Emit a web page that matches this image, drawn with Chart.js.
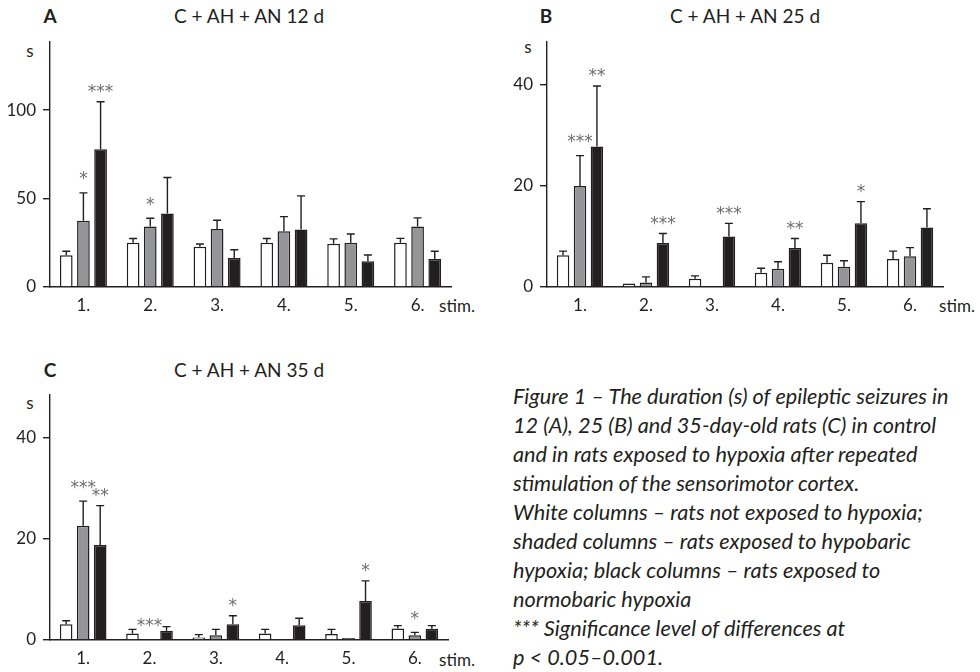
<!DOCTYPE html>
<html>
<head>
<meta charset="utf-8">
<script src="https://cdn.jsdelivr.net/npm/chart.js@4.4.0/dist/chart.umd.min.js"></script>
<style>
body{margin:0;width:980px;height:672px;overflow:hidden;background:#fff;font-family:Lato,"Open Sans",sans-serif;color:#231f20;position:relative;}
canvas{position:absolute;}
.lbl{position:absolute;transform:translate(-50%,-50%);white-space:nowrap;font-size:17px;}
.ttl{font-size:19px;}
.caption{position:absolute;left:513px;top:382px;font-style:italic;font-size:21.7px;line-height:29px;white-space:nowrap;color:#231f20;}
</style>
</head>
<body>
<div class="lbl ttl" style="left:50px;top:15px;font-weight:bold">A</div>
<div class="lbl ttl" style="left:249px;top:15px">C + AH + AN 12 d</div>
<div class="lbl ttl" style="left:546px;top:15px;font-weight:bold">B</div>
<div class="lbl ttl" style="left:745px;top:15px">C + AH + AN 25 d</div>
<div class="lbl ttl" style="left:50px;top:369px;font-weight:bold">C</div>
<div class="lbl ttl" style="left:249px;top:369px">C + AH + AN 35 d</div>
<div class="lbl" style="left:30px;top:50px">s</div>
<div class="lbl" style="left:528px;top:46px">s</div>
<div class="lbl" style="left:30px;top:402px">s</div>
<div class="lbl" style="left:457px;top:305px">stim.</div>
<div class="lbl" style="left:957px;top:305px">stim.</div>
<div class="lbl" style="left:457px;top:659px">stim.</div>

<canvas id="chartA" width="480" height="320" style="left:0;top:0"></canvas>
<canvas id="chartB" width="480" height="320" style="left:497px;top:0"></canvas>
<canvas id="chartC" width="480" height="320" style="left:0;top:353px"></canvas>

<div class="caption">
Figure 1 – The duration (s) of epileptic seizures in<br>
12 (A), 25 (B) and 35-day-old rats (C) in control<br>
and in rats exposed to hypoxia after repeated<br>
stimulation of the sensorimotor cortex.<br>
White columns – rats not exposed to hypoxia;<br>
shaded columns – rats exposed to hypobaric<br>
hypoxia; black columns – rats exposed to<br>
normobaric hypoxia<br>
*** Significance level of differences at<br>
p &lt; 0.05–0.001.
</div>

<script>
let stimLabels=["1.","2.","3.","4.","5.","6."];

/* A: 12 d */
let aWhite=[18,25,22.8,25,24.5,25];
let aWhiteErr=[20.2,27.4,24.3,27.4,27.2,27.5];
let aGray=[37.5,34.2,32.8,31.5,25,34.2];
let aGrayErr=[53.2,38.9,37.7,39.8,30,39.1];
let aBlack=[77.9,41.5,16.4,32.5,14.5,15.8];
let aBlackErr=[104.7,61.9,21.1,51.5,18.1,20.2];
let aGrayStars=["*","*","","","",""];
let aBlackStars=["***","","","","",""];
let aTicks=[0,50,100];

/* B: 25 d */
let bWhite=[6.3,0.7,1.65,2.8,4.8,5.55];
let bWhiteErr=[7.1,null,2.2,3.7,6.3,7.1];
let bGray=[20,0.9,0,3.6,4.0,6.1];
let bGrayErr=[26,2.0,null,5.0,5.2,7.8];
let bBlack=[27.8,8.7,10.0,7.7,12.6,11.8];
let bBlackErr=[39.8,10.6,12.6,9.6,16.9,15.5];
let bGrayStars=["***","","","","",""];
let bBlackStars=["**","***","***","**","*",""];
let bTicks=[0,20,40];

/* C: 35 d */
let cWhite=[3.1,1.3,0.5,1.3,1.2,2.3];
let cWhiteErr=[3.8,2.1,1.06,2.1,2.1,2.85];
let cGray=[22.6,0,0.93,0.2,0.4,0.93];
let cGrayErr=[27.5,null,2.1,null,null,1.5];
let cBlack=[18.8,1.85,3.1,2.9,7.7,2.25];
let cBlackErr=[26.6,2.65,4.8,4.3,11.7,2.85];
let cGrayStars=["***","***","","","","*"];
let cBlackStars=["**","","*","","*",""];
let cTicks=[0,20,40];

const INK="#231f20";

/* error bars + stars */
const marks={
id:"marks",
afterDatasetsDraw(chart){
let ctx=chart.ctx,y=chart.scales.y;
ctx.save();
chart.data.datasets.forEach((ds,di)=>{
let meta=chart.getDatasetMeta(di);
meta.data.forEach((bar,i)=>{
let top=bar.y;
if(ds.err[i]!=null){
let ye=y.getPixelForValue(ds.err[i]);
ctx.strokeStyle=INK;ctx.lineWidth=1.4;
ctx.beginPath();
ctx.moveTo(bar.x,bar.y);ctx.lineTo(bar.x,ye);
ctx.moveTo(bar.x-4,ye);ctx.lineTo(bar.x+4,ye);
ctx.stroke();
top=ye;
}
if(ds.stars[i]){
ctx.fillStyle="#6d6e71";
ctx.font="17px 'DejaVu Sans'";
ctx.textAlign="center";ctx.textBaseline="middle";
ctx.fillText(ds.stars[i],bar.x,top-ds.starLift);
}
});
});
ctx.restore();
}
};

function makeChart(id,white,whiteErr,gray,grayErr,black,blackErr,grayStars,blackStars,ticks,max,padRight){
let none=["","","","","",""];
return new Chart(document.getElementById(id),{
type:"bar",
data:{
labels:stimLabels,
datasets:[
{data:white,err:whiteErr,stars:none,starLift:9,backgroundColor:"#ffffff",borderColor:INK,borderWidth:1.5},
{data:gray,err:grayErr,stars:grayStars,starLift:13,backgroundColor:"#939598",borderColor:INK,borderWidth:1.5},
{data:black,err:blackErr,stars:blackStars,starLift:9,backgroundColor:INK,borderColor:INK,borderWidth:1.5}
]},
options:{
responsive:false,animation:false,
layout:{padding:{top:42,right:padRight,left:0,bottom:0}},
plugins:{legend:{display:false},tooltip:{enabled:false}},
datasets:{bar:{categoryPercentage:0.77,barPercentage:0.74}},
scales:{
x:{
grid:{display:false,drawTicks:false},
border:{display:true,color:INK,width:1.4},
ticks:{color:INK,font:{family:"Lato",size:17},padding:8},
afterFit(s){s.height=33;}
},
y:{
min:0,max:max,
afterBuildTicks(s){s.ticks=ticks.map(v=>({value:v}));},
grid:{display:true,drawOnChartArea:false,tickLength:7,color:INK,lineWidth:1.4},
border:{display:true,color:INK,width:1.4},
ticks:{color:INK,font:{family:"Lato",size:17},padding:7},
afterFit(s){s.width=50;}
}
}
},
plugins:[marks]
});
}

makeChart("chartA",aWhite,aWhiteErr,aGray,aGrayErr,aBlack,aBlackErr,aGrayStars,aBlackStars,aTicks,138.5,29);
makeChart("chartB",bWhite,bWhiteErr,bGray,bGrayErr,bBlack,bBlackErr,bGrayStars,bBlackStars,bTicks,48.5,34);
makeChart("chartC",cWhite,cWhiteErr,cGray,cGrayErr,cBlack,cBlackErr,cGrayStars,cBlackStars,cTicks,48.5,32);
</script>
</body>
</html>
